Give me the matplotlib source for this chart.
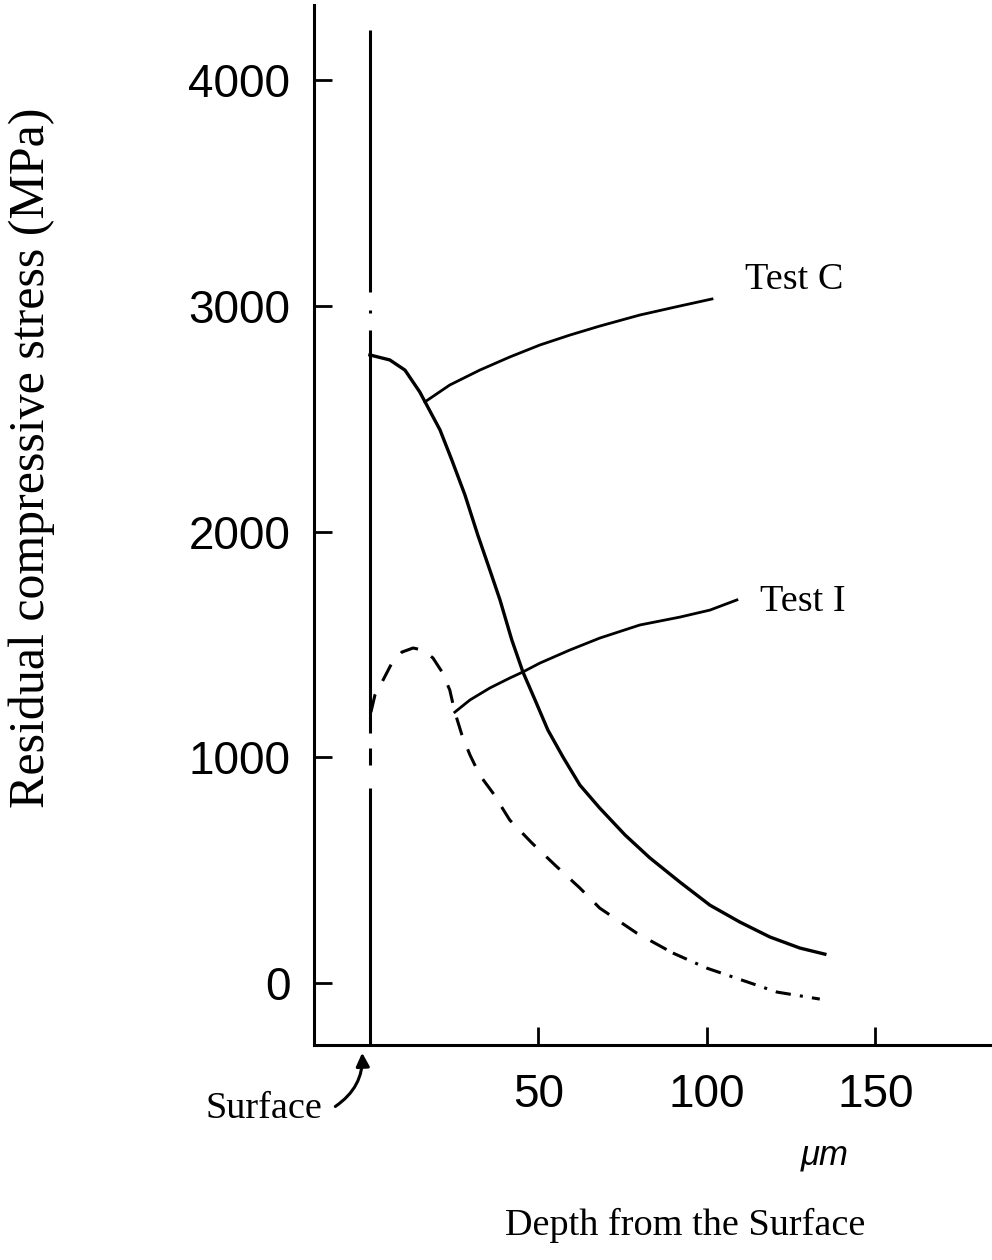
import numpy as np
import matplotlib
matplotlib.use("Agg")
import matplotlib.pyplot as plt

# depth from surface (um) and residual compressive stress (MPa)
test_c_depth = [0, 5.9, 10.4, 14.8, 20.8, 24.3, 28.2, 32.0, 35.6, 38.6, 42.1, 45.4, 49.0,
                52.8, 57.3, 62.3, 68.2, 75.7, 83.1, 92.0, 100.9, 109.8, 118.7, 127.6, 135.0]
test_c_stress = [2782, 2760, 2715, 2618, 2450, 2317, 2162, 1985, 1829, 1697, 1520, 1378, 1254,
                 1121, 1001, 877, 775, 656, 554, 447, 345, 270, 204, 155, 128]

test_i_depth = [0.3, 1.5, 3.9, 6.5, 9.5, 12.8, 15.7, 18.7, 21.4, 23.7, 25.2, 27.3, 29.7, 32.6,
                36.5, 41.5, 48.1, 54.9, 62.3, 68.2, 79.2, 89.9, 100, 110.4, 120.8, 133.5]
test_i_stress = [1200, 1276, 1342, 1417, 1466, 1484, 1475, 1440, 1378, 1298, 1200, 1099, 1010, 921,
                 842, 722, 620, 523, 421, 332, 221, 133, 66, 13, -40, -71]

# leader lines from the curves to the labels
lead_c_x = [16.3, 23.7, 32.6, 41.5, 50.4, 59.3, 68.2, 80.1, 92.0, 101.5]
lead_c_y = [2574, 2649, 2715, 2773, 2826, 2870, 2910, 2959, 2999, 3030]
lead_i_x = [25.2, 29.7, 35.6, 41.5, 45.4, 50.4, 59.3, 68.2, 80.1, 92.0, 100.9, 108.9]
lead_i_y = [1200, 1254, 1307, 1351, 1378, 1417, 1475, 1528, 1586, 1621, 1652, 1697]

# surface line pieces (y ranges in MPa) at depth 0
surface_pieces = [(4221, 3061), (2981, 2968), (2893, 1107), (1041, 966), (864, -280)]

y_ticks = [0, 1000, 2000, 3000, 4000]
x_ticks = [50, 100, 150]

sans = "Liberation Sans"
serif = "Liberation Serif"

fig = plt.figure(figsize=(9.92, 12.6), dpi=100)
ax = fig.add_axes([0.3165, 0.1706, 0.6835, 0.8254])
ax.set_xlim(-16.6, 184.6)
ax.set_ylim(-274.6, 4332)

for s in ["top", "right"]:
    ax.spines[s].set_visible(False)
for s in ["left", "bottom"]:
    ax.spines[s].set_linewidth(2.2)

ax.set_yticks(y_ticks)
ax.set_yticklabels([str(v) for v in y_ticks], fontfamily=sans, fontsize=33)
ax.set_xticks(x_ticks)
ax.set_xticklabels([str(v) for v in x_ticks], fontfamily=sans, fontsize=33)
ax.tick_params(axis="y", direction="in", length=13, width=2, pad=17)
ax.tick_params(axis="x", direction="in", length=13, width=2, pad=20)

for top, bot in surface_pieces:
    ax.plot([0, 0], [top, bot], color="black", lw=2.2, solid_capstyle="butt", clip_on=False)

ax.plot(test_c_depth, test_c_stress, color="black", lw=2.4, solid_joinstyle="round")
# dashed part, then dash-dot tail beyond ~90 um
split = test_i_depth.index(89.9)
ax.plot(test_i_depth[:split + 1], test_i_stress[:split + 1], color="black", lw=2.2, dashes=(6, 5))
ax.plot(test_i_depth[split:], test_i_stress[split:], color="black", lw=2.2,
        dashes=(5, 3, 1, 3))
ax.plot(lead_c_x, lead_c_y, color="black", lw=2.0, solid_joinstyle="round")
ax.plot(lead_i_x, lead_i_y, color="black", lw=2.0, solid_joinstyle="round")

ax.text(111.3, 3114, "Test C", fontfamily=serif, fontsize=27.5, va="center", ha="left")
ax.text(115.7, 1688, "Test I", fontfamily=serif, fontsize=27.5, va="center", ha="left")

fig.text(32 / 992, 1 - 458 / 1260, "Residual compressive stress (MPa)", rotation=90,
         fontfamily=serif, fontsize=36, ha="center", va="center")
fig.text(685 / 992, (1260 - 1235) / 1260, "Depth from the Surface",
         fontfamily=serif, fontsize=27.5, ha="center", va="baseline")
fig.text(825 / 992, (1260 - 1155) / 1260, "\u03bcm", fontfamily=sans, style="italic",
         fontsize=25, ha="center", va="center")
fig.text(205 / 992, (1260 - 1118) / 1260, "Surface", fontfamily=serif, fontsize=27.5,
         ha="left", va="baseline")
fig.patches.append(matplotlib.patches.FancyArrowPatch(
    (333 / 992, (1260 - 1108) / 1260), (362 / 992, (1260 - 1050) / 1260),
    transform=fig.transFigure, arrowstyle="-|>,head_length=8,head_width=4",
    connectionstyle="arc3,rad=0.3", color="black", lw=2.2))

fig.savefig("out.png", dpi=100, facecolor="white")
